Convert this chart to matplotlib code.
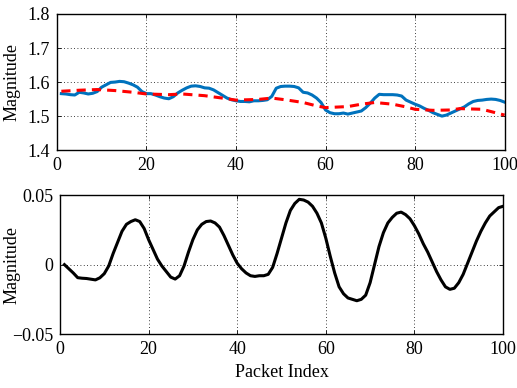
import numpy as np
import matplotlib
matplotlib.use('Agg')
import matplotlib.pyplot as plt

plt.rcParams['font.family'] = ['Liberation Serif', 'DejaVu Serif']
plt.rcParams['font.size'] = 13
plt.rcParams['axes.unicode_minus'] = True

packets = np.arange(1, 101)

# top panel: measured magnitude (blue) and its trend (red dashed)
magnitude = [
    1.566, 1.565, 1.563, 1.562, 1.570, 1.568, 1.565, 1.567, 1.572, 1.585,
    1.592, 1.599, 1.600, 1.602, 1.601, 1.597, 1.592, 1.585, 1.572, 1.566,
    1.566, 1.562, 1.557, 1.553, 1.551, 1.557, 1.568, 1.576, 1.583, 1.588,
    1.589, 1.587, 1.583, 1.582, 1.577, 1.569, 1.561, 1.553, 1.548, 1.545,
    1.543, 1.543, 1.542, 1.545, 1.545, 1.546, 1.548, 1.558, 1.582, 1.587,
    1.588, 1.588, 1.587, 1.583, 1.570, 1.568, 1.562, 1.553, 1.540, 1.518,
    1.510, 1.507, 1.507, 1.509, 1.506, 1.509, 1.512, 1.515, 1.525, 1.538,
    1.553, 1.564, 1.563, 1.563, 1.563, 1.562, 1.559, 1.547, 1.541, 1.535,
    1.530, 1.523, 1.517, 1.510, 1.505, 1.500, 1.503, 1.509, 1.515, 1.521,
    1.527, 1.536, 1.543, 1.546, 1.547, 1.549, 1.550, 1.549, 1.546, 1.541,
]
trend_x = [1, 5, 9, 13, 17, 20, 25, 28, 33, 38, 40, 45, 48, 51, 55, 58, 60,
           65, 68, 71, 75, 78, 80, 84, 88, 90, 95, 100]
trend_y = [1.573, 1.576, 1.578, 1.575, 1.570, 1.565, 1.563, 1.565, 1.560,
           1.551, 1.547, 1.549, 1.553, 1.548, 1.540, 1.530, 1.525, 1.528,
           1.535, 1.540, 1.535, 1.527, 1.520, 1.517, 1.518, 1.522, 1.520,
           1.503]

# bottom panel: residual
residual = [
    0.000, -0.003, -0.006, -0.0094, -0.0098, -0.010, -0.0105, -0.011, -0.0095, -0.0065,
    -0.001, 0.008, 0.016, 0.024, 0.029, 0.031, 0.0323, 0.031, 0.026, 0.018,
    0.011, 0.004, -0.001, -0.005, -0.009, -0.0104, -0.008, -0.001, 0.009, 0.018,
    0.025, 0.029, 0.031, 0.0314, 0.030, 0.027, 0.021, 0.014, 0.007, 0.001,
    -0.003, -0.006, -0.008, -0.0085, -0.008, -0.008, -0.007, -0.002, 0.008, 0.019,
    0.030, 0.039, 0.044, 0.047, 0.0465, 0.045, 0.042, 0.037, 0.030, 0.019,
    0.006, -0.006, -0.016, -0.021, -0.024, -0.025, -0.026, -0.025, -0.022, -0.013,
    0.000, 0.013, 0.023, 0.030, 0.034, 0.037, 0.0378, 0.036, 0.033, 0.028,
    0.022, 0.015, 0.009, 0.002, -0.005, -0.011, -0.016, -0.0178, -0.017, -0.013,
    -0.007, 0.001, 0.009, 0.017, 0.024, 0.030, 0.035, 0.038, 0.041, 0.042,
]

fig = plt.figure(figsize=(5.17, 3.88), dpi=100)
ax1 = fig.add_axes([0.110, 0.613, 0.866, 0.351])
ax2 = fig.add_axes([0.116, 0.139, 0.857, 0.358])

ax1.plot(packets, magnitude, color='#0072BD', lw=2.2)
ax1.plot(trend_x, trend_y, color='red', lw=2.2, ls=(0, (3, 2)))
ax1.set_xlim(0, 100)
ax1.set_ylim(1.4, 1.8)
ax1.set_yticks([1.4, 1.5, 1.6, 1.7, 1.8])
ax1.set_yticklabels(['1.4', '1.5', '1.6', '1.7', '1.8'])
ax1.set_ylabel('Magnitude')
ax1.yaxis.set_label_coords(-0.082, 0.5)

ax2.plot(packets, residual, color='black', lw=2.2)
ax2.set_xlim(0, 100)
ax2.set_ylim(-0.05, 0.05)
ax2.set_yticks([-0.05, 0, 0.05])
ax2.set_yticklabels(['\u22120.05', '0', '0.05'])
ax2.set_ylabel('Magnitude')
ax2.yaxis.set_label_coords(-0.090, 0.5)
ax2.set_xlabel('Packet Index', labelpad=4)

for ax in (ax1, ax2):
    ax.set_xticks([0, 20, 40, 60, 80, 100])
    ax.grid(True, ls=(0, (1, 3)), color='black', lw=0.6)
    ax.tick_params(direction='in', top=True, right=True, length=3, width=0.6, pad=5)
    for s in ax.spines.values():
        s.set_linewidth(1.0)

fig.savefig('out.png', dpi=100)
